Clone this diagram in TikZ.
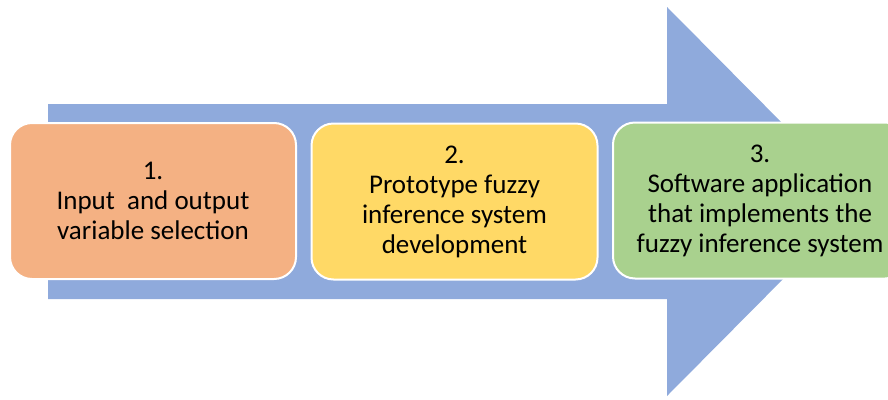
\documentclass[tikz,border=0pt]{standalone}
\usepackage{fontspec}
\setmainfont{Carlito}
\usetikzlibrary{shapes}
\definecolor{flowblue}{HTML}{8FAADC}
\definecolor{stageone}{HTML}{F4B183}
\definecolor{stagetwo}{HTML}{FFD966}
\definecolor{stagethree}{HTML}{A9D18E}

\begin{document}
\begin{tikzpicture}[x=1pt,y=-1pt]
\tikzstyle{stage}=[draw=white, line width=2pt, rounded corners=22pt, minimum width=286pt, minimum height=156pt, align=center, text=black, font=\fontsize{27}{30}\selectfont]
\useasboundingbox (0,0) rectangle (888,399);
% big arrow behind the stages
\fill [flowblue] (48,104) -- (667,104) -- (667,7) -- (860,201.5) -- (667,396) -- (667,299) -- (48,299) -- cycle;
\node [stage, fill=stageone] (a) at (153,201) {1.\\Input~ and output\\variable selection};
\node [stage, fill=stagetwo] (b) at (454.5,201.5) {2.\\Prototype fuzzy\\inference system\\development};
\node [stage, fill=stagethree, minimum width=294pt] (c) at (760,200.5) {3.\\Software application\\that implements the\\fuzzy inference system};
\end{tikzpicture}
\end{document}
